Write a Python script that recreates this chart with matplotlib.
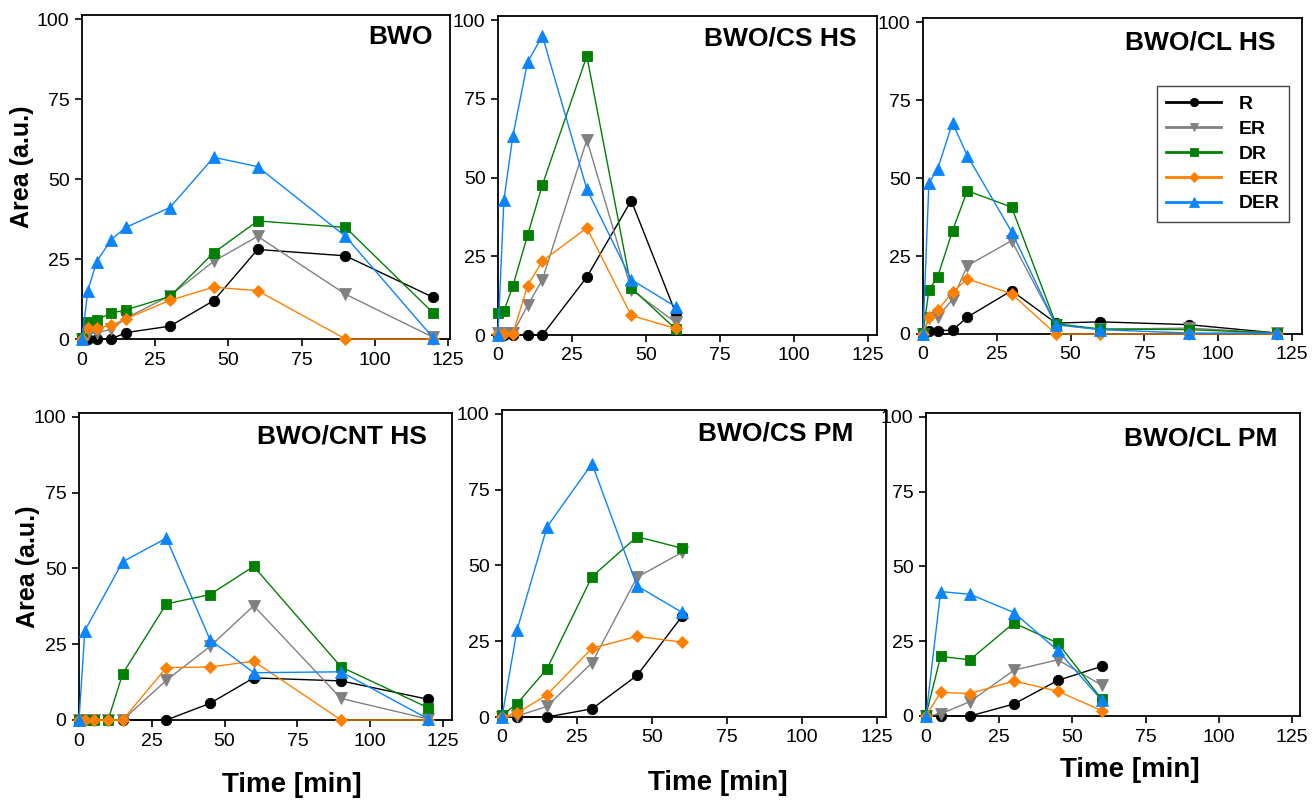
import matplotlib
matplotlib.use("Agg")
import matplotlib.pyplot as plt
import numpy as np

plt.rcParams["font.family"] = ["Liberation Sans", "DejaVu Sans"]

# sampling times (min) for each sample
t_long = [0, 2, 5, 10, 15, 30, 45, 60, 90, 120]
t_cs_hs = [0, 2, 5, 10, 15, 30, 45, 60]
t_pm = [0, 5, 15, 30, 45, 60]

series_names = ["R", "ER", "DR", "EER", "DER"]
series_colors = ["black", "#808080", "#008000", "#FF8000", "#0A84FF"]
series_markers = ["o", "v", "s", "D", "^"]
marker_sizes = [7.5, 8, 7, 6, 8.5]

# BWO
bwo_r = [0, 0, 0, 0, 2, 4, 12, 28, 26, 13]
bwo_er = [0, 1.5, 2, 3, 6.5, 13.5, 24.3, 32.1, 14, 0.5]
bwo_dr = [0.3, 5.2, 6.0, 8.1, 9.1, 13.3, 27.0, 36.9, 34.9, 8.1]
bwo_eer = [0, 3.5, 3.5, 4.3, 6.3, 12.1, 16.2, 15.1, 0, 0]
bwo_der = [0, 15.1, 24.2, 31.1, 34.9, 41.1, 56.8, 53.9, 32.1, 0.3]

# BWO/CS HS
cs_hs_r = [0, 0, 0, 0, 0, 18.4, 42.7, 7.0]
cs_hs_er = [0.5, 0.5, 0.5, 9.4, 17.6, 62.0, 14.4, 4.0]
cs_hs_dr = [7.0, 7.6, 15.5, 31.7, 47.7, 88.6, 15.0, 1.9]
cs_hs_eer = [0.3, 0.3, 0.3, 15.7, 23.5, 34.0, 6.2, 2.1]
cs_hs_der = [0, 42.9, 63.1, 86.7, 95.0, 46.3, 17.6, 9.0]

# BWO/CL HS
cl_hs_r = [0, 1.1, 1.1, 1.2, 5.4, 13.9, 3.5, 3.9, 3.0, 0.3]
cl_hs_er = [0, 5.0, 5.6, 11.0, 21.9, 29.9, 3.0, 1.5, 1.9, 0.3]
cl_hs_dr = [0.3, 14.1, 18.4, 33.1, 45.9, 40.7, 3.3, 1.6, 1.4, 0.3]
cl_hs_eer = [0, 5.6, 7.6, 13.4, 17.7, 12.9, 0, 0, 0, 0]
cl_hs_der = [0, 48.4, 53.0, 67.7, 57.2, 32.8, 3.0, 1.4, 0.3, 0.3]

# BWO/CNT HS
cnt_hs_r = [0, 0, 0, 0, 0, 0, 5.5, 13.9, 12.9, 6.8]
cnt_hs_er = [0, 0, 0, 0, 0, 13.1, 24.3, 37.7, 7.1, 0.3]
cnt_hs_dr = [0, 0, 0, 0, 15.3, 38.3, 41.4, 50.7, 17.5, 4.0]
cnt_hs_eer = [0, 0, 0, 0, 0, 17.3, 17.5, 19.4, 0, 0]
cnt_hs_der = [0, 29.5, None, None, 52.2, 60.0, 26.5, 15.6, 15.9, 0.3]

# BWO/CS PM
cs_pm_r = [0, 0, 0, 2.7, 13.7, 33.2]
cs_pm_er = [0, 0.3, 3.5, 17.9, 46.1, 54.3]
cs_pm_dr = [0.5, 4.4, 15.9, 46.3, 59.5, 55.7]
cs_pm_eer = [0, 1.3, 7.3, 22.7, 26.6, 24.7]
cs_pm_der = [0, 28.7, 62.7, 83.6, 43.3, 34.5]

# BWO/CL PM
cl_pm_r = [0, 0, 0, 4.0, 11.9, 16.6]
cl_pm_er = [0, 0.7, 4.8, 15.3, 18.8, 10.3]
cl_pm_dr = [0.3, 19.9, 18.8, 31.1, 24.4, 5.6]
cl_pm_eer = [0, 7.9, 7.5, 11.7, 8.3, 1.8]
cl_pm_der = [0, 41.6, 40.7, 34.6, 21.9, 5.3]

panels = [
    dict(title="BWO", t=t_long, data=[bwo_r, bwo_er, bwo_dr, bwo_eer, bwo_der],
         rect=(82, 15, 450, 339), xmax=125.7, title_xy=(0.954, 0.932),
         ylabel_xy=(-0.163, 0.531)),
    dict(title="BWO/CS HS", t=t_cs_hs,
         data=[cs_hs_r, cs_hs_er, cs_hs_dr, cs_hs_eer, cs_hs_der],
         rect=(498, 16, 877, 335), xmax=128.0, title_xy=(0.947, 0.928)),
    dict(title="BWO/CL HS", t=t_long,
         data=[cl_hs_r, cl_hs_er, cl_hs_dr, cl_hs_eer, cl_hs_der],
         rect=(923, 18, 1302, 334), xmax=128.4, title_xy=(0.931, 0.924),
         legend=True),
    dict(title="BWO/CNT HS", t=t_long,
         data=[cnt_hs_r, cnt_hs_er, cnt_hs_dr, cnt_hs_eer, cnt_hs_der],
         rect=(79, 413, 452, 720), xmax=128.1, title_xy=(0.933, 0.922),
         ylabel_xy=(-0.137, 0.498), xlabel_xy=(0.571, -0.212)),
    dict(title="BWO/CS PM", t=t_pm,
         data=[cs_pm_r, cs_pm_er, cs_pm_dr, cs_pm_eer, cs_pm_der],
         rect=(502, 410, 886, 717), xmax=128.0, title_xy=(0.914, 0.925),
         xlabel_xy=(0.5625, -0.215)),
    dict(title="BWO/CL PM", t=t_pm,
         data=[cl_pm_r, cl_pm_er, cl_pm_dr, cl_pm_eer, cl_pm_der],
         rect=(926, 413, 1300, 716), xmax=127.7, title_xy=(0.939, 0.917),
         xlabel_xy=(0.545, -0.178)),
]

W, H = 1312, 802
fig = plt.figure(figsize=(W / 100, H / 100), dpi=100)

for p in panels:
    x0, y0, x1, y1 = p["rect"]
    ax = fig.add_axes([x0 / W, 1 - y1 / H, (x1 - x0) / W, (y1 - y0) / H])
    for vals, name, c, m, ms in zip(p["data"], series_names, series_colors,
                                    series_markers, marker_sizes):
        pts = [(t, v) for t, v in zip(p["t"], vals) if v is not None]
        xs = [q[0] for q in pts]
        ys = [q[1] for q in pts]
        ax.plot(xs, ys, color=c, marker=m, markersize=ms, linewidth=1.0,
                markeredgewidth=0.6, label=name, clip_on=False, zorder=3)

    ax.set_xlim(0, p["xmax"])
    ax.set_ylim(0, 101.3)
    ax.set_xticks(np.arange(0, 126, 25))
    ax.set_yticks(np.arange(0, 101, 25))
    ax.tick_params(direction="out", length=5, width=1.2, labelsize=14,
                   pad=4)
    for s in ax.spines.values():
        s.set_linewidth(1.3)

    tx, ty = p["title_xy"]
    ax.text(tx, ty, p["title"], transform=ax.transAxes, ha="right",
            va="center", fontsize=19, fontweight="bold")

    if "ylabel_xy" in p:
        lx, ly = p["ylabel_xy"]
        ax.text(lx, ly, "Area (a.u.)", transform=ax.transAxes, rotation=90,
                ha="center", va="center", fontsize=18, fontweight="bold")
    if "xlabel_xy" in p:
        lx, ly = p["xlabel_xy"]
        ax.text(lx, ly, "Time [min]", transform=ax.transAxes,
                ha="center", va="center", fontsize=20, fontweight="bold")

    if p.get("legend"):
        leg = ax.legend(loc="upper right", bbox_to_anchor=(0.966, 0.785),
                        borderaxespad=0, frameon=True, fancybox=False,
                        edgecolor="#444444", framealpha=1, borderpad=0.5,
                        labelspacing=0.37, handlelength=2.8,
                        handletextpad=0.9, markerscale=0.8,
                        prop=dict(size=14, weight="bold"))
        leg.get_frame().set_linewidth(1.0)
        for line in leg.get_lines():
            line.set_linewidth(2.0)

fig.savefig("out.png", dpi=100)
